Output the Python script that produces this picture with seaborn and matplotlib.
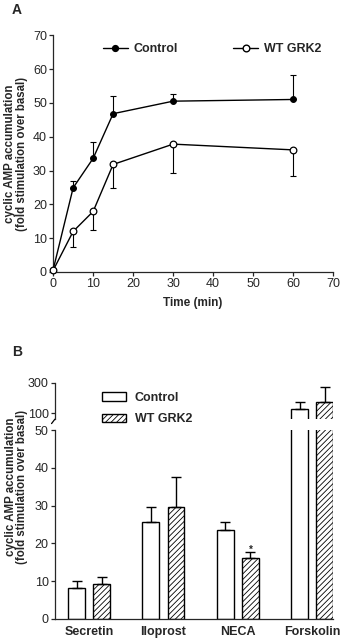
"""
cAMP accumulation: time course (A) and agonist panel (B)
"""
import matplotlib
matplotlib.use("Agg")
import matplotlib.pyplot as plt
from matplotlib.patches import Patch
from matplotlib.lines import Line2D
from matplotlib.container import BarContainer
import numpy as np
import pandas as pd
import seaborn as sns

# ---- panel A data ----
time_min = [0, 5, 10, 15, 30, 60]
ctrl_mean = [0.7, 24.9, 33.6, 46.8, 50.5, 51.0]
ctrl_err = [0.0, 2.0, 4.7, 5.3, 2.1, 7.3]
grk_mean = [0.5, 12.0, 17.9, 31.8, 37.8, 36.1]
grk_err = [0.0, 4.7, 5.4, 7.1, 8.6, 7.7]

# ---- panel B data ----
agents = ["Secretin", "Iloprost", "NECA", "Forskolin"]
groups = ["Control", "WT GRK2"]
b_ctrl = [8.2, 25.6, 23.5, 125.0]
b_ctrl_err = [1.9, 4.1, 2.2, 48.0]
b_grk = [9.3, 29.5, 16.0, 173.0]
b_grk_err = [1.7, 8.2, 1.6, 100.0]

sns.set_theme(style="ticks")
plt.rcParams["font.family"] = ["Liberation Sans", "DejaVu Sans"]
plt.rcParams["font.size"] = 9
plt.rcParams["axes.linewidth"] = 0.9
plt.rcParams["xtick.major.size"] = 3
plt.rcParams["ytick.major.size"] = 3
plt.rcParams["xtick.major.width"] = 0.9
plt.rcParams["ytick.major.width"] = 0.9
plt.rcParams["hatch.linewidth"] = 0.6
plt.rcParams["hatch.color"] = "#444444"

YLAB = "cyclic AMP accumulation\n(fold stimulation over basal)"

fig = plt.figure(figsize=(3.43, 6.40), dpi=100)

# ================= Panel A =================
axA = fig.add_axes([0.155, 0.575, 0.816, 0.370])
sns.lineplot(x=time_min, y=ctrl_mean, ax=axA, color="black", lw=1,
             marker="o", markersize=4.2, markerfacecolor="black",
             markeredgecolor="black", clip_on=False, zorder=3)
sns.lineplot(x=time_min, y=grk_mean, ax=axA, color="black", lw=1,
             marker="o", markersize=4.8, markerfacecolor="white",
             markeredgecolor="black", markeredgewidth=0.9, clip_on=False, zorder=3)
axA.errorbar(time_min, ctrl_mean, yerr=[np.zeros(len(ctrl_err)), ctrl_err],
             fmt="none", ecolor="black", elinewidth=0.8, capsize=2.5, capthick=0.8, zorder=2)
axA.errorbar(time_min, grk_mean, yerr=[grk_err, np.zeros(len(grk_err))],
             fmt="none", ecolor="black", elinewidth=0.8, capsize=2.5, capthick=0.8, zorder=2)
axA.set_xlim(0, 70)
axA.set_ylim(0, 70)
axA.set_xticks(range(0, 71, 10))
axA.set_yticks(range(0, 71, 10))
axA.tick_params(labelsize=9, pad=1.5)
axA.set_xlabel("Time (min)", fontsize=8.5, fontweight="bold", labelpad=5)
axA.set_ylabel(YLAB, fontsize=8.3, fontweight="bold", linespacing=0.95)
axA.yaxis.set_label_coords(-0.09, 0.5)
sns.despine(ax=axA)

hA = [Line2D([], [], color="black", lw=1, marker="o", markersize=4.2, markerfacecolor="black"),
      Line2D([], [], color="black", lw=1, marker="o", markersize=4.8, markerfacecolor="white")]
axA.legend(hA, groups, loc="upper right", bbox_to_anchor=(1.0, 1.015), ncol=2,
           frameon=False, prop={"weight": "bold", "size": 9},
           handlelength=2.0, columnspacing=4.4, handletextpad=0.5)

fig.text(0.035, 0.985, "A", fontsize=10, fontweight="bold", va="center")

# ================= Panel B =================
df = pd.DataFrame({
    "agent": agents * 2,
    "group": [groups[0]] * 4 + [groups[1]] * 4,
    "value": b_ctrl + b_grk,
})
means = {groups[0]: b_ctrl, groups[1]: b_grk}
errs = {groups[0]: b_ctrl_err, groups[1]: b_grk_err}

axB = fig.add_axes([0.160, 0.033, 0.811, 0.295])
axT = fig.add_axes([0.160, 0.345, 0.811, 0.057])

for ax in (axB, axT):
    sns.barplot(data=df, x="agent", y="value", hue="group", order=agents,
                hue_order=groups, palette=["white", "white"], edgecolor="black",
                linewidth=1, width=0.676, gap=0.33, errorbar=None, ax=ax, legend=False)
    bars = [c for c in ax.containers if isinstance(c, BarContainer)]
    for gi, cont in enumerate(bars):
        xs = []
        for p in cont.patches:
            if gi == 1:
                p.set_hatch("//////")
            xs.append(p.get_x() + p.get_width() / 2)
        g = groups[gi]
        ax.errorbar(xs, means[g], yerr=[np.zeros(4), errs[g]], fmt="none",
                    ecolor="black", elinewidth=1, capsize=3.5, capthick=1, zorder=1)
    ax.set_xlim(-0.46, 3.28)

axB.set_ylim(0, 50)
axB.set_yticks(range(0, 51, 10))
axB.tick_params(axis="y", labelsize=9, pad=1.5)
axB.tick_params(axis="x", length=0, pad=5)
for lab in axB.get_xticklabels():
    lab.set_fontweight("bold")
    lab.set_fontsize(9)
axB.set_xlabel("")
axB.set_ylabel(YLAB, fontsize=8.3, fontweight="bold", linespacing=0.95)
axB.yaxis.set_label_coords(-0.095, 0.70)
sns.despine(ax=axB)
axB.text(bars[1].patches[2].get_x() + bars[1].patches[2].get_width() / 2, 18.4, "*",
         ha="center", va="center", fontsize=7, fontweight="bold")

axT.set_ylim(60, 300)
axT.set_yticks([100, 300])
axT.tick_params(axis="y", labelsize=9, pad=1.5)
axT.set_xticks([])
axT.set_xlabel("")
axT.set_ylabel("")
sns.despine(ax=axT, bottom=True)
axT.plot([0, -0.012], [0, -0.12], transform=axT.transAxes, color="black",
         lw=0.9, clip_on=False)

hB = [Patch(facecolor="white", edgecolor="black", lw=1),
      Patch(facecolor="white", edgecolor="black", lw=1, hatch="//////")]
fig.legend(hB, groups, loc="upper left", bbox_to_anchor=(0.265, 0.405),
           frameon=False, prop={"weight": "bold", "size": 9},
           handlelength=1.9, handleheight=0.65, handletextpad=0.7, labelspacing=0.75)

fig.text(0.035, 0.45, "B", fontsize=10, fontweight="bold", va="center")

fig.savefig("out.png", dpi=100)
